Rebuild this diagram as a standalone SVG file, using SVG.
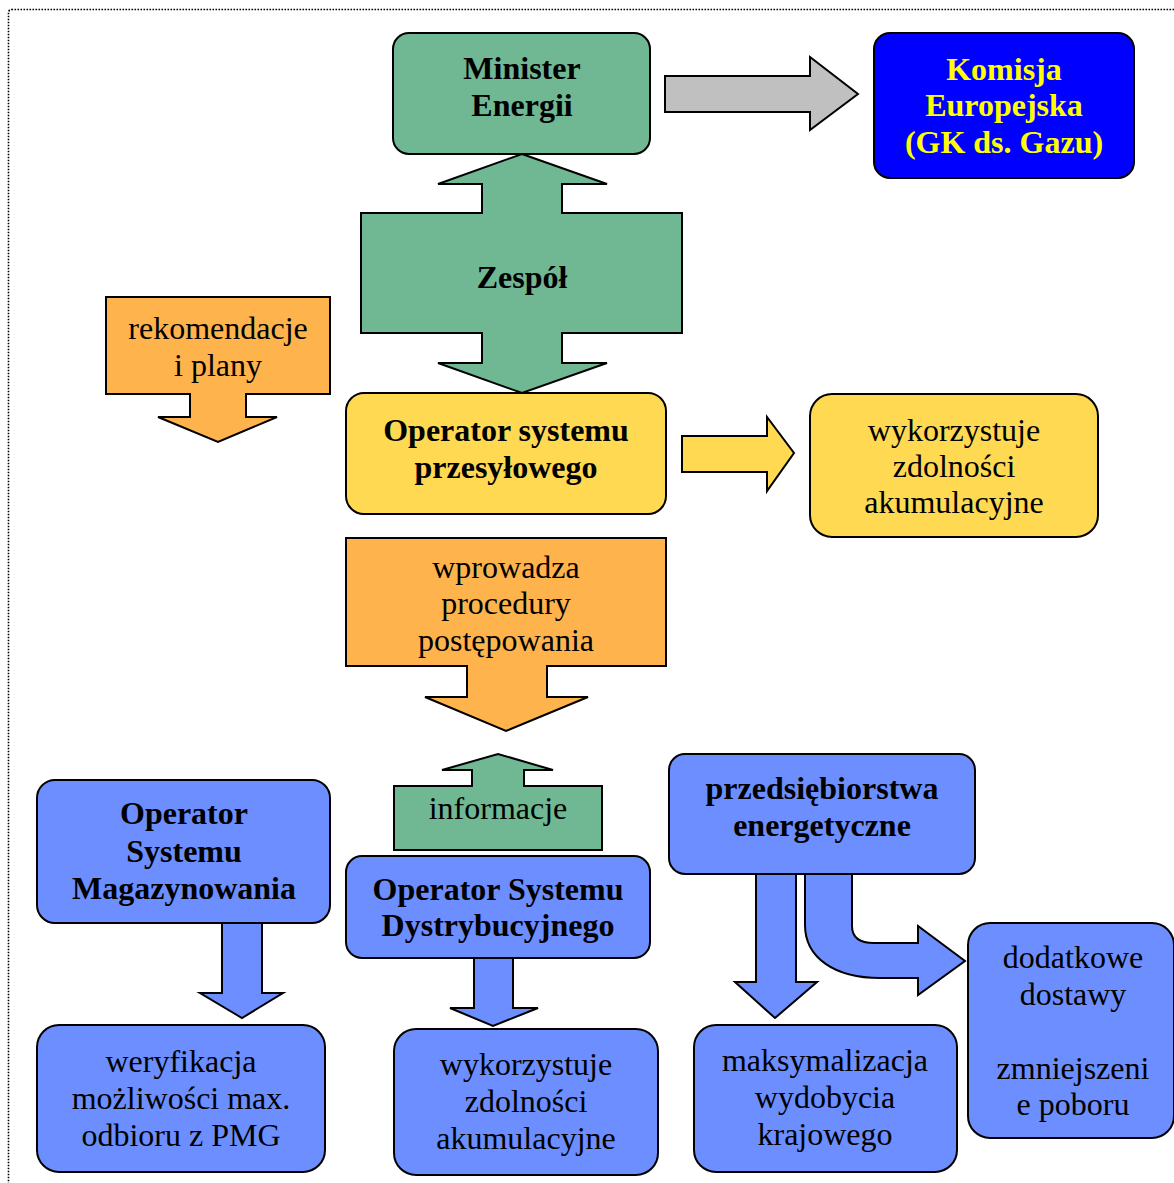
<svg xmlns="http://www.w3.org/2000/svg" width="1174" height="1183" viewBox="0 0 1174 1183">
<style>
.b{stroke:#000;stroke-width:2;stroke-linejoin:miter}
.g{fill:#6FB893}
.y{fill:#FFD952}
.o{fill:#FFB34D}
.l{fill:#6C8EFF}
.gr{fill:#C0C0C0}
.t{font-family:"Liberation Serif","Times New Roman",serif;font-size:32px;text-anchor:middle;fill:#000}
.tb{font-weight:bold}
</style>
<rect x="8.5" y="9.5" width="1200" height="1200" rx="3" fill="none" stroke="#000" stroke-width="1.6" stroke-dasharray="1.6 1.4"/>

<g id="connectors">
  <path id="arrow-komisja" class="b gr" d="M665,76 L810,76 L810,57 L858,94 L810,130 L810,112 L665,112 Z"/>
  <path id="arrow-osp-right" class="b y" d="M682,436 L767,436 L767,417 L794,453 L767,491 L767,472 L682,472 Z"/>
  <path id="arrow-osm" class="b l" d="M222,923 L262,923 L262,993 L283,993 L242,1018 L200,993 L222,993 Z"/>
  <path id="arrow-osd" class="b l" d="M474,958 L513,958 L513,1008 L538,1008 L493,1026 L450,1008 L474,1008 Z"/>
  <path id="arrow-pe-down" class="b l" d="M756,874 L796,874 L796,982 L817,982 L775,1018 L735,982 L756,982 Z"/>
  <path id="arrow-pe-curve" class="b l" d="M805,874 L805,925 C805,958 835,978 880,978 L918,978 L918,995 L965,961 L918,926 L918,943 L874,943 C858,943 852,936 852,926 L852,874 Z"/>
</g>

<g id="minister">
  <rect class="b g" x="393" y="33" width="257" height="121" rx="16"/>
  <text class="t tb" x="522" y="79">Minister</text>
  <text class="t tb" x="522" y="116">Energii</text>
</g>

<g id="komisja">
  <rect class="b" fill="#0000FF" x="874" y="33" width="260" height="145" rx="16"/>
  <text class="t tb" style="fill:#FFFF00" x="1004" y="80">Komisja</text>
  <text class="t tb" style="fill:#FFFF00" x="1004" y="116">Europejska</text>
  <text class="t tb" style="fill:#FFFF00" x="1004" y="153">(GK ds. Gazu)</text>
</g>

<g id="zespol">
  <path class="b g" d="M522,154 L607,184 L562,184 L562,213 L682,213 L682,333 L562,333 L562,363 L607,363 L522,393 L438,363 L482,363 L482,333 L361,333 L361,213 L482,213 L482,184 L438,184 Z"/>
  <text class="t tb" x="522" y="288">Zespół</text>
</g>

<g id="rekomendacje">
  <path class="b o" d="M106,297 L330,297 L330,394 L246,394 L246,417 L277,417 L218,442 L158,417 L190,417 L190,394 L106,394 Z"/>
  <text class="t" x="218" y="339">rekomendacje</text>
  <text class="t" x="218" y="376">i plany</text>
</g>

<g id="osp">
  <rect class="b y" x="346" y="393" width="320" height="121" rx="18"/>
  <text class="t tb" x="506" y="441">Operator systemu</text>
  <text class="t tb" x="506" y="478">przesyłowego</text>
</g>

<g id="osp-akumulacja">
  <rect class="b y" x="810" y="394" width="288" height="143" rx="22"/>
  <text class="t" x="954" y="441">wykorzystuje</text>
  <text class="t" x="954" y="477">zdolności</text>
  <text class="t" x="954" y="513">akumulacyjne</text>
</g>

<g id="wprowadza">
  <path class="b o" d="M346,538 L666,538 L666,666 L547,666 L547,697 L588,697 L506,731 L425,697 L467,697 L467,666 L346,666 Z"/>
  <text class="t" x="506" y="578">wprowadza</text>
  <text class="t" x="506" y="614">procedury</text>
  <text class="t" x="506" y="651">postępowania</text>
</g>

<g id="informacje">
  <path class="b g" d="M394,850 L602,850 L602,786 L524,786 L524,770 L553,770 L498,754 L442,770 L472,770 L472,786 L394,786 Z"/>
  <text class="t" x="498" y="819">informacje</text>
</g>

<g id="osm">
  <rect class="b l" x="37" y="780" width="293" height="143" rx="18"/>
  <text class="t tb" x="184" y="824">Operator</text>
  <text class="t tb" x="184" y="862">Systemu</text>
  <text class="t tb" x="184" y="899">Magazynowania</text>
</g>

<g id="osd">
  <rect class="b l" x="346" y="856" width="304" height="102" rx="16"/>
  <text class="t tb" x="498" y="900">Operator Systemu</text>
  <text class="t tb" x="498" y="936">Dystrybucyjnego</text>
</g>

<g id="przedsiebiorstwa">
  <rect class="b l" x="669" y="754" width="306" height="120" rx="16"/>
  <text class="t tb" x="822" y="799">przedsiębiorstwa</text>
  <text class="t tb" x="822" y="836">energetyczne</text>
</g>

<g id="weryfikacja">
  <rect class="b l" x="37" y="1025" width="288" height="147" rx="22"/>
  <text class="t" x="181" y="1072">weryfikacja</text>
  <text class="t" x="181" y="1109">możliwości max.</text>
  <text class="t" x="181" y="1146">odbioru z PMG</text>
</g>

<g id="osd-akumulacja">
  <rect class="b l" x="394" y="1029" width="264" height="146" rx="22"/>
  <text class="t" x="526" y="1075">wykorzystuje</text>
  <text class="t" x="526" y="1112">zdolności</text>
  <text class="t" x="526" y="1149">akumulacyjne</text>
</g>

<g id="maksymalizacja">
  <rect class="b l" x="694" y="1025" width="263" height="147" rx="22"/>
  <text class="t" x="825" y="1071">maksymalizacja</text>
  <text class="t" x="825" y="1108">wydobycia</text>
  <text class="t" x="825" y="1145">krajowego</text>
</g>

<g id="dodatkowe">
  <rect class="b l" x="968" y="923" width="206" height="215" rx="22"/>
  <text class="t" x="1073" y="968">dodatkowe</text>
  <text class="t" x="1073" y="1005">dostawy</text>
  <text class="t" x="1073" y="1079">zmniejszeni</text>
  <text class="t" x="1073" y="1115">e poboru</text>
</g>
</svg>
